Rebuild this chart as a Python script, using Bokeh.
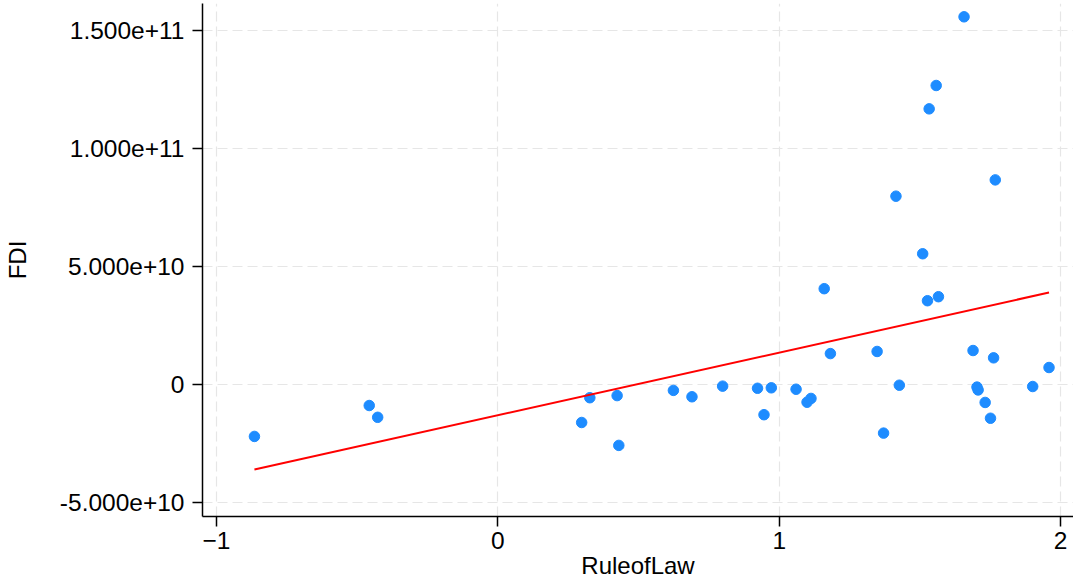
import numpy as np
from bokeh.plotting import figure
from bokeh.models import FixedTicker, CustomJSTickFormatter, Range1d, ColumnDataSource
from bokeh.embed import file_html
from bokeh.resources import INLINE

rule_of_law = [-0.865, -0.457, -0.427, 0.298, 0.327, 0.424, 0.430, 0.624, 0.690,
               0.799, 0.923, 0.946, 0.972, 1.060, 1.099, 1.113, 1.160, 1.182,
               1.348, 1.371, 1.415, 1.427, 1.510, 1.527, 1.533, 1.558, 1.566,
               1.657, 1.689, 1.703, 1.707, 1.732, 1.751, 1.762, 1.768, 1.901, 1.959]
fdi = [-2.20e10, -8.9e9, -1.39e10, -1.61e10, -5.6e9, -4.7e9, -2.58e10, -2.5e9, -5.2e9,
       -0.7e9, -1.6e9, -1.28e10, -1.4e9, -2.0e9, -7.5e9, -5.9e9, 4.06e10, 1.31e10,
       1.40e10, -2.06e10, 7.98e10, -0.3e9, 5.54e10, 3.55e10, 1.168e11, 1.267e11, 3.72e10,
       1.558e11, 1.44e10, -1.1e9, -2.3e9, -7.6e9, -1.43e10, 1.13e10, 8.67e10, -0.85e9, 7.2e9]

x_ticks = [-1, 0, 1, 2]
y_ticks = [-5e10, 0, 5e10, 1e11, 1.5e11]

# linear fit
slope, intercept = np.polyfit(rule_of_law, fdi, 1)
fit_x = [min(rule_of_law), max(rule_of_law)]
fit_y = [intercept + slope * v for v in fit_x]

FONT = "Liberation Sans"

p = figure(width=1073, height=587, output_backend="svg", toolbar_location=None,
           x_range=Range1d(-1.0496, 2.046), y_range=Range1d(-5.593e10, 1.6144e11),
           min_border_left=200, min_border_right=0, min_border_top=3, min_border_bottom=71)
p.outline_line_color = None
p.background_fill_color = "white"
p.border_fill_color = "white"

src = ColumnDataSource(dict(x=rule_of_law, y=fdi))
p.scatter("x", "y", source=src, size=10.5, fill_color="#1e8cff", line_color="#1e8cff")
p.line(fit_x, fit_y, line_color="#ff0000", line_width=2)

for ax in (p.xaxis[0], p.yaxis[0]):
    ax.axis_line_color = "black"
    ax.axis_line_width = 1.5
    ax.major_tick_line_color = "black"
    ax.major_tick_line_width = 1.5
    ax.major_tick_out = 10
    ax.major_tick_in = 0
    ax.minor_tick_line_color = None
    ax.major_label_text_font = FONT
    ax.major_label_text_font_size = "24.5px"
    ax.major_label_text_color = "black"
    ax.axis_label_text_font = FONT
    ax.axis_label_text_font_size = "24px"
    ax.axis_label_text_font_style = "normal"
    ax.axis_label_text_color = "black"

p.xaxis.ticker = FixedTicker(ticks=x_ticks)
p.yaxis.ticker = FixedTicker(ticks=y_ticks)
p.yaxis.formatter = CustomJSTickFormatter(code="return tick == 0 ? '0' : tick.toExponential(3);")
p.yaxis.major_label_orientation = "horizontal"
p.xaxis.axis_label = "RuleofLaw"
p.yaxis.axis_label = "FDI"
p.xaxis.major_label_standoff = 5
p.yaxis.major_label_standoff = 8
p.xaxis.axis_label_standoff = 0
p.yaxis.axis_label_standoff = 26

for g in (p.xgrid[0], p.ygrid[0]):
    g.grid_line_color = "#e6e6e6"
    g.grid_line_dash = "10 5"
    g.grid_line_width = 1.2
p.xgrid.ticker = FixedTicker(ticks=x_ticks)
p.ygrid.ticker = FixedTicker(ticks=y_ticks)

open("out.html", "w").write(file_html(p, INLINE))
